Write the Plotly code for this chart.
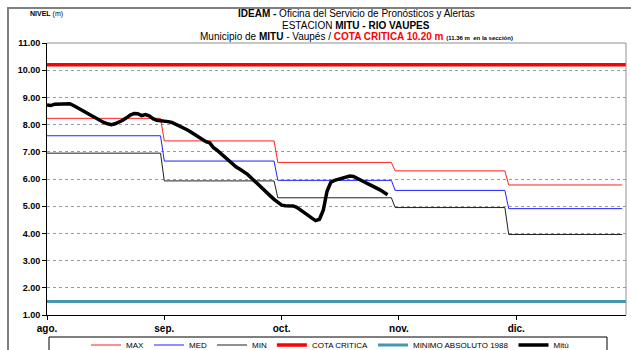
import plotly.graph_objects as go

# Days counted from 1 August (day 0); axis ticks every 31 days
month_labels = ["ago.", "sep.", "oct.", "nov.", "dic."]
tick_days = [0, 31, 62, 93, 124]

# First and last day of each month, Aug..Dec
month_start = [0, 31, 61, 92, 122]
month_end = [30, 60, 91, 121, 152]

# Monthly reference levels (m)
nivel_max = [8.23, 7.40, 6.61, 6.30, 5.78]
nivel_med = [7.59, 6.66, 5.95, 5.58, 4.91]
nivel_min = [6.95, 5.93, 5.31, 4.95, 3.96]

cota_critica = 10.20
minimo_absoluto = 1.50

# Daily stage at Mitú (m), from 1 August
mitu_days = list(range(0, 91))
mitu_nivel = [
    8.72, 8.70, 8.75, 8.76, 8.74, 8.76, 8.77, 8.70, 8.62, 8.55,
    8.47, 8.38, 8.30, 8.21, 8.14, 8.08, 8.03, 8.00, 8.03, 8.09,
    8.16, 8.25, 8.35, 8.41, 8.40, 8.33, 8.37, 8.32, 8.22, 8.16,
    8.15, 8.15, 8.11, 8.08, 8.02, 7.95, 7.88, 7.81, 7.73, 7.64,
    7.56, 7.44, 7.37, 7.33, 7.15, 7.05, 6.93, 6.80, 6.68, 6.55,
    6.44, 6.36, 6.27, 6.17, 6.04, 5.90, 5.76, 5.63, 5.50, 5.38,
    5.25, 5.13, 5.04, 5.02, 5.01, 5.01, 4.96, 4.87, 4.77, 4.66,
    4.56, 4.47, 4.52, 4.85, 5.55, 5.88, 5.95, 5.99, 6.03, 6.10,
    6.11, 6.09, 6.01, 5.95, 5.88, 5.81, 5.75, 5.68, 5.60, 5.51,
    5.42,
]

W, H = 631, 350
ML, MR, MT, MB = 47, 5, 43, 35
PW, PH = W - ML - MR, H - MT - MB
FONT = "Liberation Sans, Arial, sans-serif"


def px(x):
    return (x - ML) / PW


def py(y):
    return (H - MB - y) / PH


def monthly_steps(values):
    xs, ys = [], []
    for s, e, v in zip(month_start, month_end, values):
        xs += [s, e]
        ys += [v, v]
    return xs, ys


fig = go.Figure()

for name, vals, color in [
    ("MAX", nivel_max, "#ff2020"),
    ("MED", nivel_med, "#2020ff"),
    ("MIN", nivel_min, "#202020"),
]:
    xs, ys = monthly_steps(vals)
    fig.add_trace(go.Scatter(x=xs, y=ys, mode="lines", name=name,
                             line=dict(color=color, width=1)))

fig.add_trace(go.Scatter(x=[0, 153], y=[cota_critica] * 2, mode="lines",
                         name="COTA CRITICA", line=dict(color="#ff0000", width=3.5)))
fig.add_trace(go.Scatter(x=[0, 153], y=[minimo_absoluto] * 2, mode="lines",
                         name="MINIMO ABSOLUTO 1988", line=dict(color="#4596b0", width=3)))
fig.add_trace(go.Scatter(x=mitu_days, y=mitu_nivel, mode="lines", name="Mitú",
                         line=dict(color="#000000", width=3.5)))

fig.update_layout(
    width=W, height=H,
    margin=dict(l=ML, r=MR, t=MT, b=MB, autoexpand=False),
    paper_bgcolor="white", plot_bgcolor="white",
    font=dict(family=FONT, color="black"),
    showlegend=True,
    legend=dict(
        orientation="h", xref="container", yref="container",
        x=330 / W, xanchor="center", y=(H - 345) / H, yanchor="middle",
        font=dict(size=8, family=FONT), itemwidth=30, bgcolor="rgba(0,0,0,0)",
        tracegroupgap=0,
    ),
)

fig.update_xaxes(
    range=[0, 153], tickmode="array", tickvals=tick_days, ticktext=month_labels,
    showgrid=False, zeroline=False, showline=True, linecolor="black", linewidth=1,
    ticks="outside", ticklen=4, tickcolor="black",
    tickfont=dict(size=10, family=FONT, color="black", weight="bold"),
)
fig.update_yaxes(
    range=[1, 11], dtick=1, tickformat=".2f",
    showgrid=True, gridcolor="#9a9a9a", griddash="dot", gridwidth=1,
    zeroline=False, showline=True, linecolor="black", linewidth=1,
    ticks="outside", ticklen=4, tickcolor="black",
    tickfont=dict(size=9, family=FONT, color="black", weight="bold"),
)

# outer frame, top/right plot border and legend box
fig.add_shape(type="rect", xref="paper", yref="paper",
              x0=px(8), x1=px(640), y0=py(360), y1=py(8),
              line=dict(color="#808080", width=2), layer="below")
fig.add_shape(type="line", xref="paper", yref="paper", x0=0, x1=1, y0=1, y1=1,
              line=dict(color="#909090", width=1))
fig.add_shape(type="line", xref="paper", yref="paper", x0=1, x1=1, y0=0, y1=1,
              line=dict(color="#909090", width=1))
fig.add_shape(type="rect", xref="paper", yref="paper",
              x0=px(49), x1=px(607), y0=py(353), y1=py(337),
              line=dict(color="black", width=1))

title_lines = [
    ("<b>IDEAM - </b>Oficina del Servicio de Pronósticos y Alertas", 14),
    ("ESTACION <b>MITU - RIO VAUPES</b>", 25),
    ("Municipio de <b>MITU</b> - Vaupés / "
     "<b><span style='color:#ff0000'>COTA CRITICA 10.20 m</span></b> "
     "<b><span style='font-size:6px'>(11.36 m  en la sección)</span></b>", 36),
]
for text, y in title_lines:
    fig.add_annotation(text=text, xref="paper", yref="paper", x=px(356), y=py(y),
                       xanchor="center", yanchor="middle", showarrow=False,
                       font=dict(size=10, family=FONT, color="black"))

fig.add_annotation(text="<b>NIVEL</b> (m)", xref="paper", yref="paper",
                   x=px(28), y=py(14), xanchor="left", yanchor="middle",
                   showarrow=False, font=dict(size=7, family=FONT, color="black"))

fig.write_html("out.html")
